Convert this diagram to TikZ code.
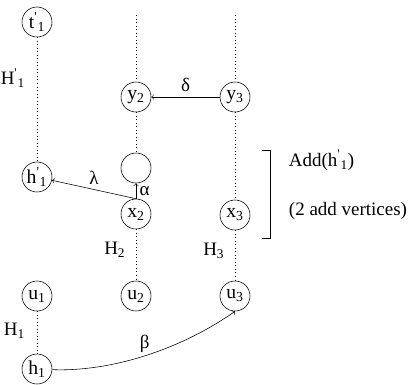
\documentclass[tikz,border=0pt]{standalone}
\usepackage{fontspec}
\setmainfont{Liberation Serif}
\newcommand{\sbp}[2]{#1\textsuperscript{\textquotesingle}\textsubscript{#2}}

\begin{document}
\begin{tikzpicture}[x=0.025cm, y=-0.025cm,
  vert/.style={draw, circle, minimum size=0.75cm, inner sep=0pt, font=\fontsize{14}{16}\selectfont},
  lbl/.style={font=\fontsize{13.5}{16}\selectfont},
  path/.style={dotted, line width=0.5pt}]
\useasboundingbox (0,0) rectangle (413,384);

\node[vert] (t1) at (37, 22) {\sbp{t}{1}};
\node[vert] (y2) at (136, 97) {y\textsubscript{2}};
\node[vert] (y3) at (235, 97) {y\textsubscript{3}};
\node[vert] (h1p) at (37, 177) {\sbp{h}{1}};
\node[vert] (e) at (136, 168) {};
\node[vert] (x2) at (136, 214) {x\textsubscript{2}};
\node[vert] (x3) at (235, 215) {x\textsubscript{3}};
\node[vert] (u1) at (37, 296) {u\textsubscript{1}};
\node[vert] (u2) at (136, 296) {u\textsubscript{2}};
\node[vert] (u3) at (235, 296) {u\textsubscript{3}};
\node[vert] (h1) at (37, 369) {h\textsubscript{1}};
\coordinate (top2) at (136, 15);
\coordinate (top3) at (235, 15);

% paths
\draw[path] (t1) -- (h1p) node[pos=0.33, left=5pt, lbl] {\sbp{H}{1}};
\draw[path] (u1) -- (h1) node[pos=0.45, left=5pt, lbl] {H\textsubscript{1}};
\draw[path] (top2) -- (y2);
\draw[path] (y2) -- (e);
\draw[path] (x2) -- (u2) node[pos=0.4, left=4pt, lbl] {H\textsubscript{2}};
\draw[path] (top3) -- (y3);
\draw[path] (y3) -- (x3);
\draw[path] (x3) -- (u3) node[pos=0.4, left=4pt, lbl] {H\textsubscript{3}};

\draw[->] (y3) -- (y2) node[midway, above, lbl] {δ};
\draw[->] (x2.north) -- (h1p) node[midway, above, lbl] {λ};
\draw[->] (x2) -- (e) node[midway, right=-1pt, lbl] {α};
\draw[->] (h1) .. controls (110, 372) and (180, 350) .. (u3.south) node[pos=0.5, above=-1pt, lbl] {β};

% bracket
\draw (262, 150) -- (270, 150) -- (270, 238) -- (262, 238);
\node[lbl, anchor=west] (add) at (284, 160) {Add(\sbp{h}{1})};
\node[lbl, anchor=west] (cnt) at (284, 211) {(2 add vertices)};
\end{tikzpicture}
\end{document}
